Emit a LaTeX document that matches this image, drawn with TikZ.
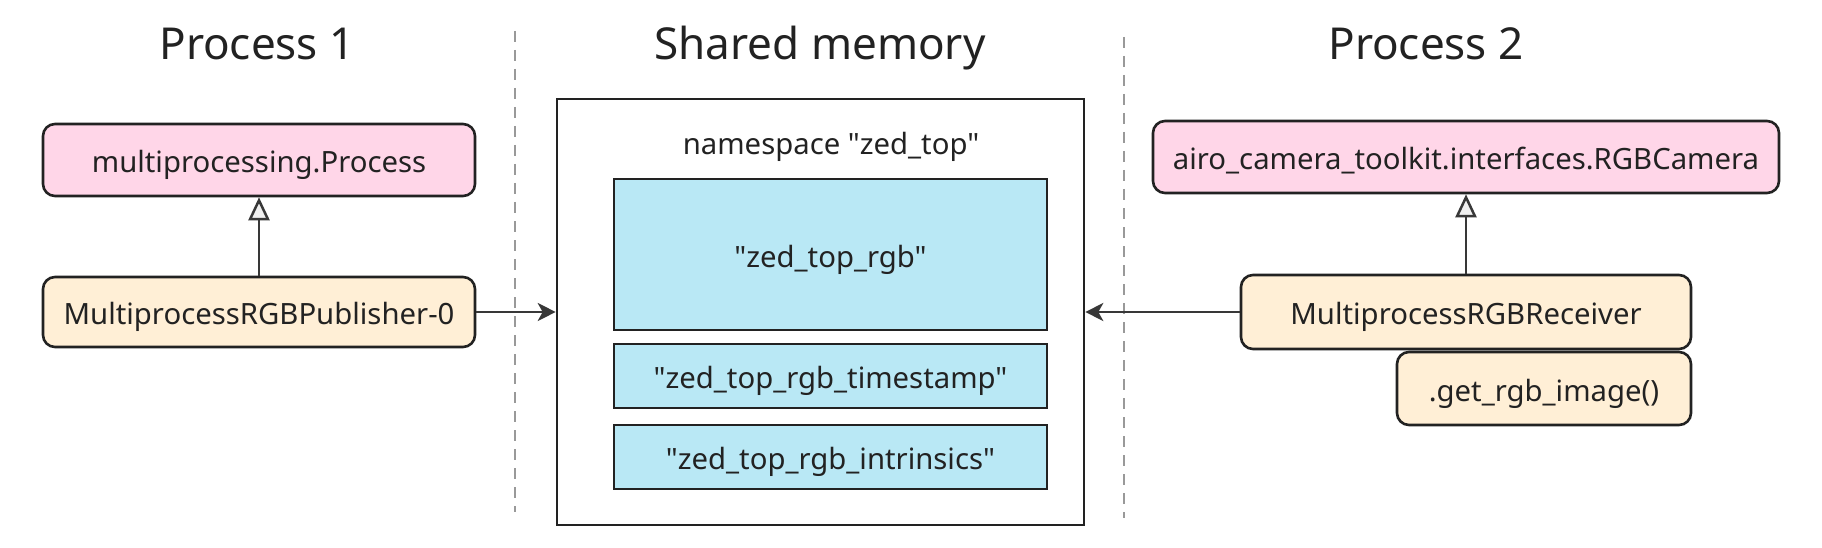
\documentclass[tikz,border=0pt]{standalone}
\usepackage{fontspec}
\setmainfont{Noto Sans}[Ligatures=TeXOff]
\usetikzlibrary{arrows.meta}
\definecolor{pinkfill}{HTML}{FFD6E8}
\definecolor{beigefill}{HTML}{FFEFD6}
\definecolor{bluefill}{HTML}{B9E8F5}
\definecolor{edge}{HTML}{222222}
\definecolor{txt}{HTML}{222222}
\definecolor{dashgray}{HTML}{999999}
\tikzset{
  body/.style={font=\fontsize{29.3}{34}\selectfont, text=txt, text height=27pt, text depth=2pt},
  title/.style={font=\fontsize{44}{50}\selectfont, text=txt, anchor=base},
  classbox/.style={body, draw=edge, line width=2.6pt, rounded corners=12pt, inner sep=0pt},
  pinkbox/.style={classbox, fill=pinkfill},
  beigebox/.style={classbox, fill=beigefill},
  slotbox/.style={body, draw=edge, line width=2.6pt, fill=bluefill, inner sep=0pt},
  membox/.style={draw=edge, line width=2.6pt, fill=white, inner sep=0pt},
  inherit/.style={draw=edge!90, line width=2.5pt, -{Triangle[open, fill=gray!12, length=23pt, width=21pt, line width=2.5pt]}},
  flow/.style={draw=edge!90, line width=2.5pt, -{Stealth[length=18pt, width=18pt, inset=5pt]}},
  divider/.style={draw=dashgray, line width=2.5pt, dash pattern=on 11pt off 8pt}
}
\begin{document}
\begin{tikzpicture}[x=1pt, y=-1pt]
\useasboundingbox (0,0) rectangle (1822,548);
\fill[white] (0,0) rectangle (1822,548);

% titles
\node[title] (t1) at (257,60) {Process 1};
\node[title] (t2) at (820,60) {Shared memory};
\node[title] (t3) at (1426,60) {Process 2};

% dividers
\coordinate (d1a) at (515,31);
\coordinate (d1b) at (515,512);
\coordinate (d2a) at (1124,37);
\coordinate (d2b) at (1124,518);
\draw[divider] (d1a) -- (d1b);
\draw[divider] (d2a) -- (d2b);

% process 1
\node[pinkbox, minimum width=432pt, minimum height=72pt] (mp) at (259,160) {multiprocessing.Process};
\node[beigebox, minimum width=432pt, minimum height=70pt] (pub) at (259,312) {MultiprocessRGBPublisher-0};

% shared memory
\node[membox, minimum width=527pt, minimum height=426pt] (shm) at (820.5,312) {};
\node[body] (ns) at (831,142) {namespace "zed\_top"};
\node[slotbox, minimum width=433pt, minimum height=151pt] (rgb) at (830.5,254.5) {"zed\_top\_rgb"};
\node[slotbox, minimum width=433pt, minimum height=64pt] (ts) at (830.5,376) {"zed\_top\_rgb\_timestamp"};
\node[slotbox, minimum width=433pt, minimum height=64pt] (intr) at (830.5,457) {"zed\_top\_rgb\_intrinsics"};

% process 2
\node[pinkbox, minimum width=626pt, minimum height=72pt] (cam) at (1466,157) {airo\_camera\_toolkit.interfaces.RGBCamera};
\node[beigebox, minimum width=450pt, minimum height=74pt] (recv) at (1466,312) {MultiprocessRGBReceiver};
\node[beigebox, minimum width=294pt, minimum height=73pt] (get) at (1544,388.5) {.get\_rgb\_image()};

% connectors
\draw[inherit] (pub.north) -- (mp.south);
\draw[inherit] (recv.north) -- (cam.south);
\draw[flow] (pub.east) -- (shm.west);
\draw[flow] (recv.west) -- (shm.east);
\end{tikzpicture}
\end{document}
